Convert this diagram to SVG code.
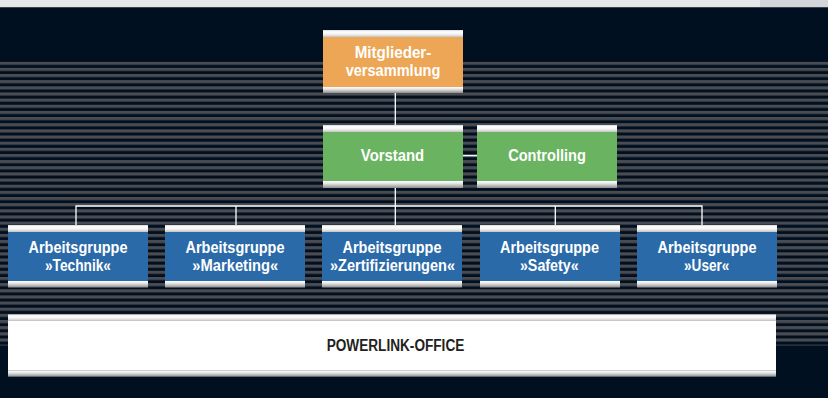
<svg xmlns="http://www.w3.org/2000/svg" width="828" height="398" viewBox="0 0 828 398">
<defs>
<pattern id="stripes" patternUnits="userSpaceOnUse" x="0" y="61.7" width="10" height="6.15">
<rect x="0" y="0" width="10" height="3.1" fill="#4b4c51"/>
</pattern>
<linearGradient id="bevTop" x1="0" y1="0" x2="0" y2="1">
<stop offset="0" stop-color="#d6d6d6"/>
<stop offset="0.25" stop-color="#ffffff"/>
<stop offset="0.6" stop-color="#f2f2f2"/>
<stop offset="1" stop-color="#c4c4c4"/>
</linearGradient>
<linearGradient id="bevBot" x1="0" y1="0" x2="0" y2="1">
<stop offset="0" stop-color="#ffffff"/>
<stop offset="0.35" stop-color="#e6e6e6"/>
<stop offset="0.75" stop-color="#b0b0b0"/>
<stop offset="1" stop-color="#8c8c8c"/>
</linearGradient>
<style>
.t{font-family:"Liberation Sans",Arial,sans-serif;font-weight:bold;font-size:16.6px;fill:#ffffff;text-anchor:middle}
.d{font-family:"Liberation Sans",Arial,sans-serif;font-weight:bold;font-size:16px;fill:#231f20;text-anchor:middle}
.ln{stroke:#ffffff;stroke-width:1.3;fill:none}
.orange{fill:#eca655}
.green{fill:#6ab461}
.blue{fill:#2b6aa8}
.white{fill:#ffffff}
</style>
</defs>
<rect x="0" y="0" width="828" height="398" fill="#001020"/>
<rect x="0" y="0" width="760" height="7" fill="#e6e7e9"/>
<rect x="760" y="0" width="68" height="7" fill="#d4d5d8"/>
<rect x="0" y="7" width="828" height="1" fill="#3c4450"/>
<rect x="0" y="61.7" width="828" height="283.8" fill="url(#stripes)"/>

<g id="connectors">
<path class="ln" d="M395.3 93 V125"/>
<path class="ln" d="M463 155.7 H477"/>
<path class="ln" d="M395.3 188 V225"/>
<path class="ln" d="M76 225 V206 H702 V225"/>
<path class="ln" d="M236 206 V225"/>
<path class="ln" d="M555.3 206 V225"/>
</g>

<g id="mitgliederversammlung">
<rect x="323" y="30" width="140" height="7" fill="url(#bevTop)"/>
<rect class="orange" x="323" y="37" width="140" height="50"/>
<rect x="323" y="87" width="140" height="6" fill="url(#bevBot)"/>
<text class="t" x="393" y="57.7" textLength="76.7" lengthAdjust="spacingAndGlyphs">Mitglieder-</text>
<text class="t" x="393" y="75.7" textLength="94.7" lengthAdjust="spacingAndGlyphs">versammlung</text>
</g>

<g id="vorstand">
<rect x="323" y="125" width="140" height="7" fill="url(#bevTop)"/>
<rect class="green" x="323" y="132" width="140" height="49"/>
<rect x="323" y="181" width="140" height="7" fill="url(#bevBot)"/>
<text class="t" x="392.5" y="161" textLength="63.3" lengthAdjust="spacingAndGlyphs">Vorstand</text>
</g>

<g id="controlling">
<rect x="477" y="125" width="140" height="7" fill="url(#bevTop)"/>
<rect class="green" x="477" y="132" width="140" height="49"/>
<rect x="477" y="181" width="140" height="7" fill="url(#bevBot)"/>
<text class="t" x="547" y="161" textLength="77.7" lengthAdjust="spacingAndGlyphs">Controlling</text>
</g>

<g id="ag-technik">
<rect x="8" y="225" width="140" height="7" fill="url(#bevTop)"/>
<rect class="blue" x="8" y="232" width="140" height="49"/>
<rect x="8" y="281" width="140" height="6.5" fill="url(#bevBot)"/>
<text class="t" x="78" y="253.3" textLength="99" lengthAdjust="spacingAndGlyphs">Arbeitsgruppe</text>
<text class="t" x="78" y="271.3" textLength="66" lengthAdjust="spacingAndGlyphs">»Technik«</text>
</g>

<g id="ag-marketing">
<rect x="165" y="225" width="140" height="7" fill="url(#bevTop)"/>
<rect class="blue" x="165" y="232" width="140" height="49"/>
<rect x="165" y="281" width="140" height="6.5" fill="url(#bevBot)"/>
<text class="t" x="235" y="253.3" textLength="99" lengthAdjust="spacingAndGlyphs">Arbeitsgruppe</text>
<text class="t" x="235.3" y="271.3" textLength="86" lengthAdjust="spacingAndGlyphs">»Marketing«</text>
</g>

<g id="ag-zertifizierungen">
<rect x="322" y="225" width="140" height="7" fill="url(#bevTop)"/>
<rect class="blue" x="322" y="232" width="140" height="49"/>
<rect x="322" y="281" width="140" height="6.5" fill="url(#bevBot)"/>
<text class="t" x="392" y="253.3" textLength="99" lengthAdjust="spacingAndGlyphs">Arbeitsgruppe</text>
<text class="t" x="392.5" y="271.3" textLength="125" lengthAdjust="spacingAndGlyphs">»Zertifizierungen«</text>
</g>

<g id="ag-safety">
<rect x="480" y="225" width="140" height="7" fill="url(#bevTop)"/>
<rect class="blue" x="480" y="232" width="140" height="49"/>
<rect x="480" y="281" width="140" height="6.5" fill="url(#bevBot)"/>
<text class="t" x="549.5" y="253.3" textLength="99" lengthAdjust="spacingAndGlyphs">Arbeitsgruppe</text>
<text class="t" x="549.3" y="271.3" textLength="58.7" lengthAdjust="spacingAndGlyphs">»Safety«</text>
</g>

<g id="ag-user">
<rect x="637" y="225" width="140" height="7" fill="url(#bevTop)"/>
<rect class="blue" x="637" y="232" width="140" height="49"/>
<rect x="637" y="281" width="140" height="6.5" fill="url(#bevBot)"/>
<text class="t" x="707" y="253.3" textLength="99" lengthAdjust="spacingAndGlyphs">Arbeitsgruppe</text>
<text class="t" x="706.7" y="271.3" textLength="45.3" lengthAdjust="spacingAndGlyphs">»User«</text>
</g>

<g id="powerlink-office">
<rect x="8" y="314.3" width="768" height="6.5" fill="url(#bevTop)"/>
<rect class="white" x="8" y="320.7" width="768" height="50"/>
<rect x="8" y="370.7" width="768" height="6" fill="url(#bevBot)"/>
<text class="d" x="395.5" y="350.7" textLength="137.6" lengthAdjust="spacingAndGlyphs">POWERLINK-OFFICE</text>
</g>
</svg>
